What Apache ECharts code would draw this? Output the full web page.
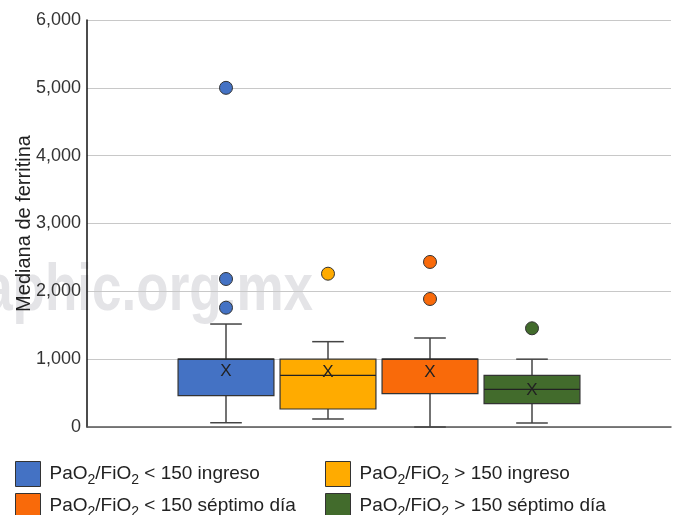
<!DOCTYPE html>
<html><head><meta charset="utf-8">
<script src="https://cdn.jsdelivr.net/npm/echarts@6/dist/echarts.min.js"></script>
<style>html,body{margin:0;padding:0;background:#fff}#c{width:676px;height:515px}</style>
</head><body><div id="c"></div>
<script>
// ---- data ----
const groupNames = [
  'PaO2/FiO2 < 150 ingreso',
  'PaO2/FiO2 > 150 ingreso',
  'PaO2/FiO2 < 150 séptimo día',
  'PaO2/FiO2 > 150 séptimo día'
];
const colors = ['#4472C4', '#FFAB00', '#F96A0A', '#426B2C'];
const whiskerLow  = [63, 118, 0, 59];
const q1          = [462, 265, 491, 344];
const median      = [1000, 762, 1000, 556];
const q3          = [1000, 1000, 1000, 762];
const whiskerHigh = [1518, 1258, 1312, 1000];
const mean        = [815, 811, 806, 535];
const outliers    = [[5000, 2182, 1759], [2260], [2433, 1887], [1455]];
const yTicks = [0, 1000, 2000, 3000, 4000, 5000, 6000];

const FONT = '"Liberation Sans", Arial, sans-serif';
const chart = echarts.init(document.getElementById('c'));

function renderBox(params, api) {
  const i = api.value(0);
  const x = api.coord([i, 0])[0];
  const band = api.size([1, 0])[0];
  const bw = band * 0.94, cw = band * 0.31;
  const y = v => api.coord([i, v])[1];
  const yLow = y(api.value(1)), yQ1 = y(api.value(2)), yMed = y(api.value(3)),
        yQ3 = y(api.value(4)), yHigh = y(api.value(5)), yMean = y(api.value(6));
  const color = api.visual('color');
  const ws = {stroke: '#444', lineWidth: 1.5};
  return {type: 'group', children: [
    {type: 'line', shape: {x1: x, y1: yHigh, x2: x, y2: yQ3}, style: ws},
    {type: 'line', shape: {x1: x, y1: yQ1, x2: x, y2: yLow}, style: ws},
    {type: 'line', shape: {x1: x - cw / 2, y1: yHigh, x2: x + cw / 2, y2: yHigh}, style: ws},
    {type: 'line', shape: {x1: x - cw / 2, y1: yLow, x2: x + cw / 2, y2: yLow}, style: ws},
    {type: 'rect', shape: {x: x - bw / 2, y: yQ3, width: bw, height: yQ1 - yQ3},
      style: {fill: color, stroke: '#333', lineWidth: 1.2}},
    {type: 'line', shape: {x1: x - bw / 2, y1: yMed, x2: x + bw / 2, y2: yMed},
      style: {stroke: '#222', lineWidth: 1.2}},
    {type: 'text', x: x, y: yMean,
      style: {text: 'X', fill: '#222', font: '17px ' + FONT, align: 'center', verticalAlign: 'middle'}}
  ]};
}

const series = [];
groupNames.forEach((name, i) => {
  series.push({
    name: name, type: 'custom', xAxisIndex: 1, yAxisIndex: 1,
    itemStyle: {color: colors[i]},
    encode: {x: 0, y: [1, 2, 3, 4, 5, 6]},
    data: [[i, whiskerLow[i], q1[i], median[i], q3[i], whiskerHigh[i], mean[i]]],
    renderItem: renderBox, z: 3
  });
});
groupNames.forEach((name, i) => {
  series.push({
    name: 'out' + i, type: 'scatter', xAxisIndex: 1, yAxisIndex: 1,
    symbolSize: 13,
    itemStyle: {color: colors[i], borderColor: '#333', borderWidth: 1, opacity: 1},
    data: outliers[i].map(v => [i, v]), z: 4
  });
});

const legendText = {
  fontFamily: FONT, fontSize: 19, color: '#222', lineHeight: 26,
  padding: [0, 0, 0, 4],
  rich: {sub: {fontFamily: FONT, fontSize: 14, color: '#222', lineHeight: 14, padding: [12, 0, 0, 0]}}
};
const legendFmt = n => n.replace(/O2/g, 'O{sub|2}');
const legendPos = [[15, 461], [325, 461], [15, 493], [325, 493]];
const legends = groupNames.map((n, i) => ({
  left: legendPos[i][0], top: legendPos[i][1], padding: 0,
  itemWidth: 25, itemHeight: 25, icon: 'rect',
  itemStyle: {borderColor: '#333', borderWidth: 1},
  textStyle: legendText, formatter: legendFmt, selectedMode: false,
  data: [n]
}));

chart.setOption({
  animation: false,
  graphic: [{
    type: 'text', x: 313, y: 292, z: -10, scaleY: 1.25,
    style: {text: 'aphic.org.mx', font: 'bold 53px ' + FONT, fill: '#e4e4e7',
      align: 'right', verticalAlign: 'middle'}
  }],
  grid: [
    {left: 87, right: 5, top: 20, bottom: 88},
    {left: 175, right: 93, top: 20, bottom: 88}
  ],
  xAxis: [
    {gridIndex: 0, type: 'category', data: [''],
      axisLine: {lineStyle: {color: '#555', width: 1.5}},
      axisTick: {show: false}, axisLabel: {show: false}},
    {gridIndex: 1, type: 'category', data: groupNames, show: false}
  ],
  yAxis: [
    {gridIndex: 0, type: 'value', min: yTicks[0], max: yTicks[yTicks.length - 1], interval: 1000,
      name: 'Mediana de ferritina', nameLocation: 'middle', nameGap: 53, nameMoveOverlap: false,
      nameTextStyle: {fontFamily: FONT, fontSize: 20, color: '#222'},
      axisLine: {show: true, lineStyle: {color: '#111', width: 1.5}},
      axisTick: {show: false},
      axisLabel: {fontFamily: FONT, fontSize: 18, color: '#333', margin: 6,
        formatter: v => v.toLocaleString('en-US')},
      splitLine: {lineStyle: {color: '#c8c8c8', width: 1}}},
    {gridIndex: 1, type: 'value', min: yTicks[0], max: yTicks[yTicks.length - 1], show: false,
      splitLine: {show: false}}
  ],
  legend: legends,
  series: series
});
</script></body></html>
